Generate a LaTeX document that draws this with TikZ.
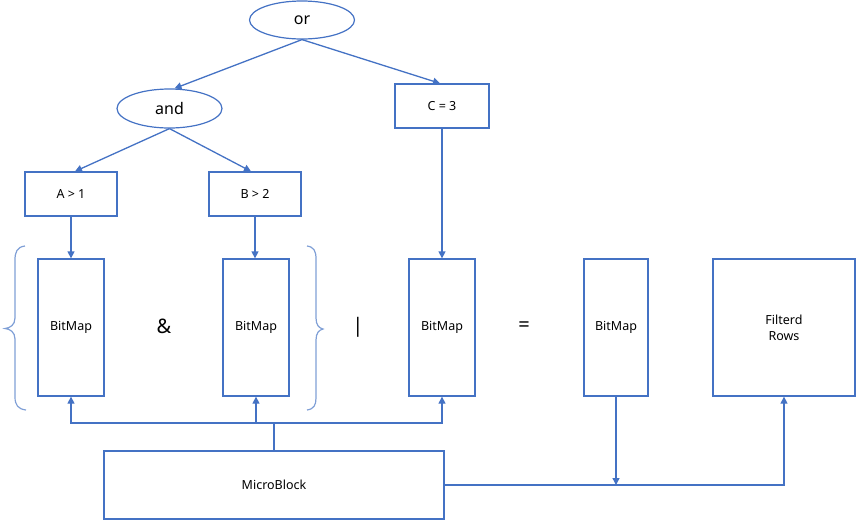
\documentclass[tikz,border=0pt]{standalone}
\usepackage{fontspec}
\setmainfont{Noto Sans}
\usetikzlibrary{arrows.meta,shapes.geometric}
\definecolor{lineblue}{HTML}{4472C4}
\definecolor{braceblue}{HTML}{7F9FD6}
\begin{document}
\begin{tikzpicture}[x=1pt,y=-1pt,
  every node/.style={font=\fontsize{12.5}{16}\selectfont, text=black},
  cond/.style={draw=lineblue, line width=1.2pt, ellipse, inner sep=0pt,
    minimum width=105pt, minimum height=38pt, font=\fontsize{16}{18}\selectfont},
  testbox/.style={draw=lineblue, line width=1.3pt, rectangle, inner sep=0pt,
    minimum width=92pt, minimum height=44pt},
  bitbox/.style={draw=lineblue, line width=1.3pt, rectangle, inner sep=0pt,
    minimum width=66pt, minimum height=137pt},
  opsym/.style={font=\fontsize{20}{22}\selectfont},
  link/.style={draw=lineblue, line width=1.3pt,
    -{Triangle[width=7pt,length=7pt]}},
  wire/.style={draw=lineblue, line width=1.3pt},
  bracket/.style={draw=braceblue, line width=1.2pt}]
\useasboundingbox (0,0) rectangle (856,520);

% expression tree
\node[cond] (or)  at (302,20)    {or};
\node[cond, minimum height=39pt] (and) at (169.5,108.5) {and};
\node[testbox, minimum width=94pt] (c3) at (442,106) {C = 3};
\node[testbox] (a1) at (71,194) {A > 1};
\node[testbox] (b2) at (255,194) {B > 2};

% bitmaps and result
\node[bitbox] (bm1) at (71,327.5)    {BitMap};
\node[bitbox] (bm2) at (256,327.5)   {BitMap};
\node[bitbox] (bm3) at (442,327.5)   {BitMap};
\node[bitbox, minimum width=64pt] (bm4) at (616,327.5) {BitMap};
\node[draw=lineblue, line width=1.3pt, rectangle, inner sep=0pt,
  minimum width=142pt, minimum height=137pt, align=center] (rows) at (784,327.5) {Filterd\\Rows};
\node[draw=lineblue, line width=1.3pt, rectangle, inner sep=0pt,
  minimum width=340pt, minimum height=68pt] (mb) at (274,485) {MicroBlock};

% operators between bitmaps
\node[opsym] (amp) at (164,326) {\&};
\node[opsym] (bar) at (358,327.5) {|};
\node[opsym] (eq)  at (524,327) {=};

% braces around the AND group
\draw[bracket] (25,246) .. controls (17,247) and (15,252) .. (15,260)
  -- (15,318) .. controls (15,325) and (10,328) .. (5,328.5)
  .. controls (10,329) and (15,332) .. (15,339)
  -- (15,397) .. controls (15,405) and (18,409) .. (26,410);
\draw[bracket] (307,246) .. controls (314,247) and (316,251) .. (316,259)
  -- (316,318) .. controls (316,325) and (319,328) .. (323,329)
  .. controls (319,330) and (316,333) .. (316,340)
  -- (316,398) .. controls (316,405) and (314,409) .. (307,410);

% tree edges
\draw[link] (or.south) -- ([xshift=5pt]and.north);
\draw[link] (or.south) -- ([xshift=-2pt]c3.north);
\draw[link] (and.south) -- ([xshift=4pt]a1.north);
\draw[link] (and.south) -- ([xshift=-4pt]b2.north);
\draw[link] (a1.south) -- (bm1.north);
\draw[link] (b2.south) -- (b2.south |- bm2.north);
\draw[link] (c3.south) -- (bm3.north);

% MicroBlock feeds the bitmaps
\coordinate (bus) at (274,423);
\draw[wire] (mb.north) -- (bus);
\draw[link] (bus) -| (bm1.south);
\draw[link] (bus) -| (bm2.south);
\draw[link] (bus) -| (bm3.south);

% MicroBlock to filtered rows
\draw[link] (mb.east) -| (rows.south);
\draw[link] (bm4.south) -- (bm4.south |- mb.east);
\end{tikzpicture}
\end{document}
